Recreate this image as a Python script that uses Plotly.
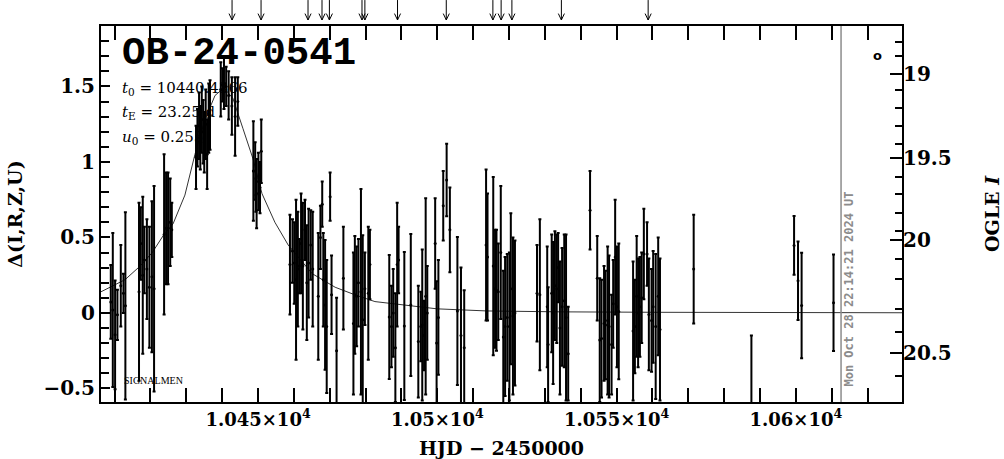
import plotly.graph_objects as go

# ---------------- data ----------------
hjd = [10408.93, 10409.49, 10410.13, 10410.78, 10411.72, 10412.46, 10413.0,
       10416.8, 10417.3, 10417.85, 10418.3, 10419.0, 10419.7, 10420.4, 10421.0,
       10423.8, 10424.35, 10424.9, 10425.5, 10425.95,
       10432.7, 10433.1, 10433.55, 10433.9, 10434.3, 10434.7, 10435.0, 10435.4, 10435.8, 10436.25, 10436.6,
       10439.6, 10440.05, 10440.5, 10441.1, 10441.8, 10442.7, 10443.6, 10444.35,
       10448.7, 10449.2, 10449.4, 10449.6, 10450.1, 10450.55, 10450.9,
       10458.9, 10459.6, 10460.1, 10460.6, 10461.1, 10461.5, 10462.0, 10462.5, 10463.1, 10463.6,
       10464.1, 10464.7, 10465.25, 10466.8, 10467.4, 10467.9, 10468.2, 10468.7, 10469.15, 10470.1,
       10470.5, 10471.9,
       10473.8, 10476.6, 10477.0, 10477.5, 10478.0, 10478.7, 10479.2, 10479.8, 10480.75, 10481.2,
       10486.6, 10487.2, 10487.7, 10488.3, 10488.8, 10489.2, 10490.8,
       10492.6, 10494.7, 10495.4, 10495.8, 10496.3, 10496.75, 10497.2,
       10499.4, 10499.8, 10500.3, 10501.65, 10502.6, 10503.5, 10505.6, 10506.6, 10507.5,
       10513.6, 10514.0, 10515.6, 10516.1, 10516.5, 10517.0, 10517.7, 10518.4, 10518.9, 10519.5, 10520.1,
       10520.5, 10521.1, 10521.65,
       10527.8, 10528.6,
       10530.65, 10530.9, 10531.9, 10532.3, 10532.8, 10533.3, 10533.7, 10534.2, 10534.8, 10535.4, 10535.9, 10536.5,
       10542.6,
       10544.6, 10545.3, 10545.8, 10546.5, 10546.9, 10547.5, 10547.9, 10548.6, 10549.05, 10549.6, 10550.1, 10550.6,
       10554.6, 10555.1, 10555.6, 10556.0, 10556.5, 10557.0, 10557.6, 10558.5, 10559.0, 10559.75, 10560.2,
       10560.9, 10561.6, 10562.1,
       10571.5, 10587.6, 10599.5, 10600.6, 10601.6, 10610.5]

delta = [0.073, 0.02, -0.145, -0.013, 0.18, 0.13, 0.047,
         0.14, 0.46, 0.25, 0.35, 0.29, 0.17, 0.24, 0.16,
         0.52, 0.56, 0.56, 0.60, 0.55,
         1.03, 1.16, 1.24, 1.16, 1.28, 1.20, 1.13, 1.25, 1.05, 1.29, 1.31,
         1.48, 1.51, 1.52, 1.50, 1.44, 1.37, 1.30, 1.40,
         0.94, 0.94, 0.78, 0.79, 0.87, 0.83, 1.07,
         0.32, 0.41, 0.33, 0.22, 0.29, 0.31, 0.46, 0.31, 0.55, 0.20,
         0.33, 0.45, 0.29, 0.11, 0.50, 0.72, 0.22, 0.053, -0.09, 0.77,
         0.12, -0.25,
         0.23, -0.07, 0.12, 0.11, 0.20, 0.14, -0.045, 0.16, 0.13, 0.32,
         -0.027, -0.09, 0.0, -0.23, 0.32, 0.35, -0.087,
         0.053, -0.19, -0.09, -0.08, -0.15, 0.11, 0.0,
         0.46, -0.2, -0.03, 0.71, 0.88, 0.55, 0.013, -0.15, -0.23,
         0.45, 0.37, 0.31, 0.16, 0.15, 0.14, 0.40, -0.16, -0.09, -0.03, -0.09,
         0.16, -0.02, 0.0,
         0.13, 0.12,
         0.04, -0.21, 0.13, 0.0, 0.18, 0.16, 0.30, -0.1, 0.04, 0.08, -0.03, -0.27,
         0.68,
         0.23, -0.18, -0.17, -0.07, -0.08, -0.05, -0.09, -0.21, 0.06, 0.37, 0.04, 0.01,
         -0.12, -0.09, 0.11, 0.0, 0.04, 0.10, 0.39, 0.39, -0.01, -0.05, 0.04,
         -0.09, 0.11, -0.11,
         0.29, -0.85, 0.447, 0.213, 0.049, 0.067]

err = [0.244, 0.51, 0.36, 0.167, 0.27, 0.13, 0.62,
       0.59, 0.24, 0.52, 0.22, 0.33, 0.40, 0.50, 0.68,
       0.53, 0.37, 0.37, 0.29, 0.18,
       0.21, 0.19, 0.22, 0.21, 0.22, 0.21, 0.20, 0.23, 0.23, 0.23, 0.23,
       0.18, 0.11, 0.17, 0.13, 0.16, 0.19, 0.26, 0.16,
       0.33, 0.19, 0.11, 0.23, 0.19, 0.17, 0.21,
       0.33, 0.21, 0.27, 0.53, 0.38, 0.18, 0.33, 0.42, 0.20, 0.38,
       0.36, 0.23, 0.38, 0.42, 0.21, 0.15, 0.31, 0.43, 0.44, 0.16,
       0.26, 0.35,
       0.34, 0.47, 0.39, 0.33, 0.29, 0.68, 0.56, 0.24, 0.44, 0.23,
       0.41, 0.27, 0.29, 0.36, 0.41, 0.22, 0.49,
       0.47, 0.37, 0.23, 0.50, 0.23, 0.65, 0.31,
       0.30, 0.41, 0.38, 0.23, 0.24, 0.28, 0.49, 0.45, 0.38,
       0.50, 0.42, 0.59, 0.39, 0.40, 0.32, 0.44, 0.44, 0.46, 0.42, 0.49,
       0.50, 0.52, 0.48,
       0.32, 0.50,
       0.40, 0.38, 0.39, 0.47, 0.36, 0.36, 0.23, 0.44, 0.39, 0.44, 0.55, 0.31,
       0.26,
       0.28, 0.41, 0.39, 0.38, 0.36, 0.49, 0.47, 0.33, 0.29, 0.38, 0.40, 0.45,
       0.46, 0.31, 0.40, 0.36, 0.33, 0.30, 0.30, 0.21, 0.37, 0.34, 0.37,
       0.48, 0.39, 0.47,
       0.36, 0.70, 0.195, 0.26, 0.35, 0.32]

# model curve
model_hjd = [10406.2, 10412.9, 10417.1, 10420.5, 10423.5, 10426.3, 10429.6, 10432.4, 10435.2,
             10438.0, 10440.5, 10443.0, 10445.8, 10448.6, 10451.1, 10454.7, 10458.4, 10465.1,
             10471.5, 10477.0, 10482.6, 10490.4, 10499.9, 10513.8, 10534.2, 10562.1, 10590.0, 10629.6]
model_delta = [0.14, 0.22, 0.31, 0.40, 0.51, 0.59, 0.78, 1.05, 1.28,
               1.44, 1.49, 1.42, 1.22, 1.02, 0.79, 0.60, 0.45, 0.26,
               0.17, 0.12, 0.075, 0.053, 0.027, 0.013, 0.007, 0.004, 0.002, 0.001]

# arrows along the top
arrow_hjd = [10442.75, 10450.84, 10463.94, 10467.84, 10469.9, 10478.99, 10479.8,
             10488.9, 10502.5, 10515.5, 10517.8, 10520.8, 10534.6, 10558.8]

now_hjd = 10612.6

x_tickvals = [10450, 10500, 10550, 10600]
x_ticktext = ["1.045×10<sup>4</sup>", "1.05×10<sup>4</sup>", "1.055×10<sup>4</sup>", "1.06×10<sup>4</sup>"]

# right axis (OGLE I magnitudes) positioned in delta units
ogle_labels = ["19", "19.5", "20", "20.5"]
ogle_delta = [1.584, 1.025, 0.48, -0.264]
ogle_minor_delta = [1.793, 1.699, 1.474, 1.36, 1.235, 1.12, 0.899, 0.789, 0.661, 0.542,
                    0.354, 0.226, 0.027, -0.127, -0.421]

YRANGE = [-0.59, 1.9]
XRANGE = [10406.2, 10629.6]

SERIF_B = "DejaVu Serif"

fig = go.Figure()

fig.add_trace(go.Scatter(
    x=model_hjd, y=model_delta, mode="lines",
    line=dict(color="black", width=0.8), hoverinfo="skip", showlegend=False))

fig.add_trace(go.Scatter(
    x=hjd, y=delta, mode="markers",
    marker=dict(color="black", size=3),
    error_y=dict(type="data", array=err, visible=True, color="black", thickness=2, width=1.5),
    showlegend=False))

# invisible trace for right axis
fig.add_trace(go.Scatter(x=[XRANGE[0]], y=[0], yaxis="y2", mode="markers",
                         marker=dict(opacity=0), showlegend=False, hoverinfo="skip"))

fig.add_shape(type="line", xref="x", yref="paper", x0=now_hjd, x1=now_hjd, y0=0, y1=1,
              line=dict(color="#8c8c8c", width=1.5))

# arrows above the frame: shaft + open V head (head size in axis units)
HEAD_DX = 0.85          # days  (~3 px)
TIP_Y = 1.016           # paper (6 px above the frame)
HEAD_DY = 0.017         # paper (~6 px)
TOP_Y = 1.069           # paper (top of the figure)
for a in arrow_hjd:
    fig.add_shape(type="line", xref="x", yref="paper", x0=a, x1=a, y0=TIP_Y, y1=TOP_Y,
                  line=dict(color="black", width=1))
    fig.add_shape(type="path", xref="x", yref="paper",
                  path=f"M {a - HEAD_DX},{TIP_Y + HEAD_DY} L {a},{TIP_Y} L {a + HEAD_DX},{TIP_Y + HEAD_DY}",
                  line=dict(color="black", width=1))

fig.add_annotation(x=0.024, y=0.925, xref="paper", yref="paper", text="<b>OB-24-0541</b>",
                   showarrow=False, xanchor="left", yanchor="middle",
                   font=dict(family="Liberation Mono", size=39, color="black"))

params = ["<i>t</i><sub>0</sub> = 10440.4366", "<i>t</i><sub>E</sub> = 23.25 d",
          "<i>u</i><sub>0</sub> = 0.255"]
for i, p in enumerate(params):
    fig.add_annotation(x=0.024, y=0.835 - i * 0.066, xref="paper", yref="paper", text=p,
                       showarrow=False, xanchor="left", yanchor="middle",
                       font=dict(family="DejaVu Serif", size=15, color="black"))

fig.add_annotation(x=0.026, y=0.058, xref="paper", yref="paper", text="SIGNALMEN",
                   showarrow=False, xanchor="left", yanchor="middle",
                   font=dict(family="Liberation Serif", size=10, color="black"))

fig.add_annotation(x=0.978, y=0.948, xref="paper", yref="paper", text="<b>o</b>",
                   showarrow=False, font=dict(family="DejaVu Sans", size=13, color="black"))

fig.add_annotation(x=0.945, y=0.037, xref="paper", yref="paper",
                   text="<b>Mon Oct 28 22:14:21 2024 UT</b>", textangle=-90,
                   showarrow=False, font=dict(family="DejaVu Sans Mono", size=12, color="#8c8c8c"))

fig.update_layout(
    width=1004, height=459,
    margin=dict(l=101, r=102, t=26, b=57),
    paper_bgcolor="white", plot_bgcolor="white",
    font=dict(family=SERIF_B, color="black"),
    xaxis=dict(range=XRANGE, tickmode="array", tickvals=x_tickvals, ticktext=x_ticktext,
               ticks="inside", ticklen=14, tickwidth=2, tickcolor="black",
               minor=dict(dtick=10, tick0=10400, ticks="inside", ticklen=7, tickwidth=2, tickcolor="black"),
               showline=True, linecolor="black", linewidth=2, mirror="allticks",
               showgrid=False, zeroline=False, automargin=False,
               tickfont=dict(family=SERIF_B, size=18, color="black", weight="bold"),
               title=dict(text="<b>HJD − 2450000</b>", font=dict(family=SERIF_B, size=19), standoff=21)),
    yaxis=dict(range=YRANGE, tickmode="array", tickvals=[-0.5, 0, 0.5, 1, 1.5],
               ticktext=["−0.5", "0", "0.5", "1", "1.5"],
               ticks="inside", ticklen=9, tickwidth=2, tickcolor="black",
               minor=dict(dtick=0.1, tick0=0, ticks="inside", ticklen=8, tickwidth=2, tickcolor="black"),
               showline=True, linecolor="black", linewidth=2, mirror=True,
               showgrid=False, zeroline=False, automargin=False,
               tickfont=dict(family=SERIF_B, size=20, color="black", weight="bold"),
               title=dict(text="<b>Δ(I,R,Z,U)</b>", font=dict(family=SERIF_B, size=19), standoff=16)),
    yaxis2=dict(range=YRANGE, overlaying="y", side="right", tickmode="array",
                tickvals=ogle_delta, ticktext=ogle_labels,
                ticks="inside", ticklen=12, tickwidth=2, tickcolor="black",
                minor=dict(tickmode="array", tickvals=ogle_minor_delta, ticks="inside", ticklen=7,
                           tickwidth=2, tickcolor="black"),
                showline=False, showgrid=False, zeroline=False, automargin=False,
                tickfont=dict(family=SERIF_B, size=20, color="black", weight="bold"),
                title=dict(text="<b>OGLE <i>I</i></b>", font=dict(family=SERIF_B, size=19), standoff=34)),
)

fig.write_html("out.html", post_script="document.body.style.margin='0';",
               config={"displayModeBar": False})
